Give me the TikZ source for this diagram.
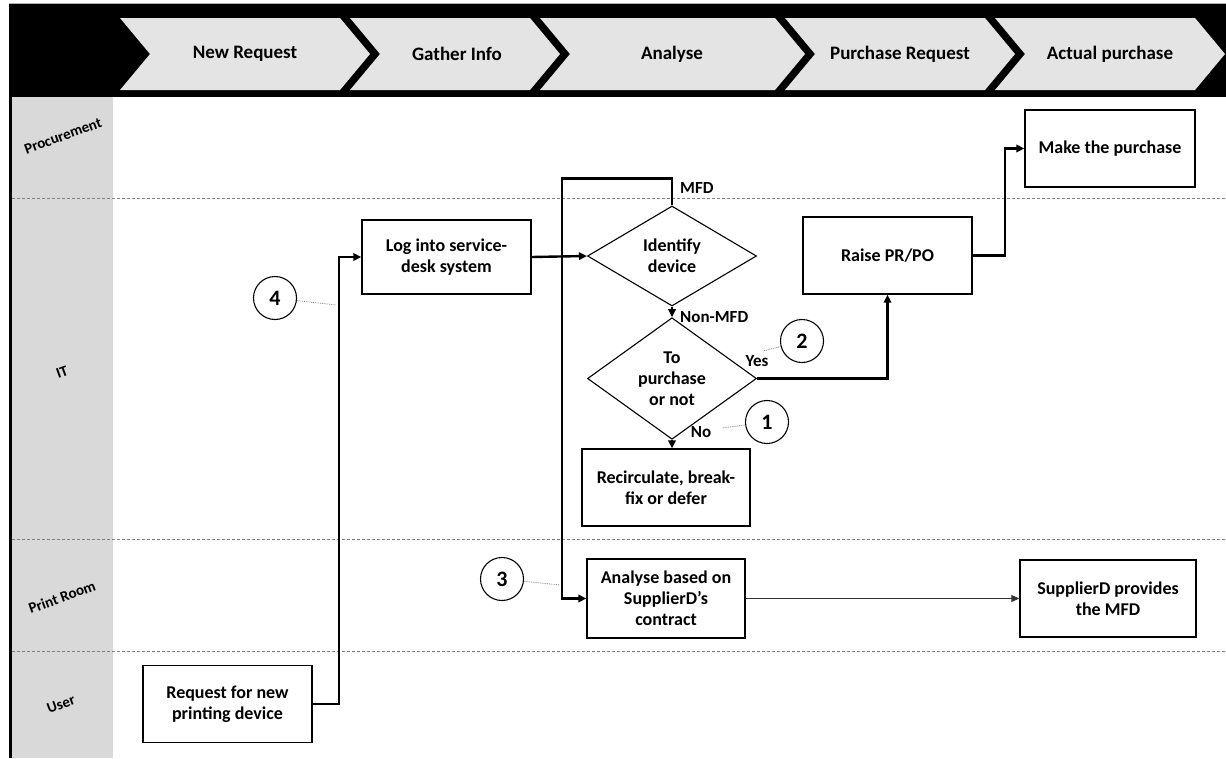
\documentclass[tikz,border=0pt]{standalone}
\usepackage{fontspec}
\setmainfont{Carlito}
\usetikzlibrary{arrows.meta,shapes.geometric,calc}
\definecolor{chev}{HTML}{E4E4E4}
\definecolor{lanecol}{HTML}{D9D9D9}
\definecolor{dashcol}{HTML}{808080}
\begin{document}
\begin{tikzpicture}[x=1pt,y=-1pt,
  box/.style={draw, line width=1.4pt, minimum width=169pt, minimum height=77pt, align=center,
    font=\bfseries\fontsize{18}{21}\selectfont, inner sep=2pt},
  dia/.style={diamond, draw, line width=1.1pt, inner sep=0pt, align=center,
    minimum width=169pt, minimum height=100pt, font=\bfseries\fontsize{18}{21}\selectfont},
  conn/.style={line width=2.4pt, -{Triangle[length=8pt,width=7.5pt]}},
  thinconn/.style={line width=0.9pt, draw=black!80, -{Triangle[length=8pt,width=7pt]}},
  num/.style={circle, draw, line width=1.1pt, minimum size=43pt, inner sep=0pt,
    font=\bfseries\fontsize{22}{25}\selectfont},
  lead/.style={draw=gray, line width=0.8pt, densely dotted},
  lane/.style={font=\bfseries\fontsize{15}{17}\selectfont, rotate=20},
  hdr/.style={font=\bfseries\fontsize{19}{22}\selectfont},
  elab/.style={font=\bfseries\fontsize{17}{20}\selectfont, inner sep=1pt},
  sep/.style={draw=dashcol, line width=0.7pt, dashed, dash pattern=on 3pt off 2pt}
]
\useasboundingbox (0,0) rectangle (1226,758);
% header band
\fill[black] (9,3) rectangle (1226,97);
\draw[gray!60, line width=0.8pt] (9,3) -- (1226,3);
\foreach \a/\b in {120/340, 350/530, 540/775, 785/985, 995/1195}{
  \fill[chev] (\a,18) -- (\b,18) -- (\b+30,54) -- (\b,90) -- (\a,90) -- (\a+30,54) -- cycle;
}
\node[hdr] (h1) at (245,54) {New Request};
\node[hdr] (h2) at (457,54) {Gather Info};
\node[hdr] (h3) at (672,54) {Analyse};
\node[hdr] (h4) at (900,54) {Purchase Request};
\node[hdr] (h5) at (1110,54) {Actual purchase};
% lane column
\fill[lanecol] (12,97) rectangle (113,758);
\draw[black, line width=2.4pt] (10.5,97) -- (10.5,758);
\draw[sep] (12,198) -- (1226,198);
\draw[sep] (12,539) -- (1226,539);
\draw[sep] (12,651) -- (1226,651);
\node[lane] (l1) at (63,136) {Procurement};
\node[lane] (l2) at (62,372) {IT};
\node[lane] (l3) at (62,597) {Print Room};
\node[lane] (l4) at (61,704) {User};
% nodes
\node[box] (req) at (227.5,704) {Request for new\\printing device};
\node[box, minimum height=74pt] (log) at (446.5,257) {Log into service-\\desk system};
\node[dia] (idd) at (672,256) {Identify\\device};
\node[dia, minimum height=99pt] (tp) at (672,378.5) {To\\purchase\\or not};
\node[box, minimum width=168pt] (rec) at (666,487.5) {Recirculate, break-\\fix or defer};
\node[box] (raise) at (887.5,255.5) {Raise PR/PO};
\node[box, minimum width=170pt] (make) at (1110,148.5) {Make the purchase};
\node[box, minimum width=158pt, minimum height=79pt] (ana) at (666,598.5) {Analyse based on\\SupplierD’s\\contract};
\node[box, minimum width=176pt] (sup) at (1108,598.5) {SupplierD provides\\the MFD};
% connectors
\draw[conn] (req.east) -- ++(26,0) |- (log.west);
\draw[conn] (log.east) -- (idd.west);
\draw[conn] (idd.north) -- ++(0,-27) -- ++(-110,0) |- (ana.west);
\draw[conn] (idd.south) -- (tp.north);
\draw[conn] (tp.south) -- (tp.south |- rec.north);
\draw[conn] (tp.east) -| (raise.south);
\draw[conn] (raise.east) -- ++(32,0) |- (make.west);
\draw[thinconn] (ana.east) -- (sup.west);
% edge labels
\node[elab, anchor=west] (lmfd) at (679,188) {MFD};
\node[elab, anchor=west] (lnon) at (679,317) {Non-MFD};
\node[elab] (lyes) at (757,361) {Yes};
\node[elab] (lno) at (701,432) {No};
% numbered callouts
\node[num] (c4) at (275,298) {4};
\node[num] (c3) at (502,579) {3};
\node[num] (c2) at (802,341) {2};
\node[num] (c1) at (767,422) {1};
\coordinate (t4) at (336,305);
\coordinate (t3) at (560,585);
\coordinate (t2) at (763,351);
\coordinate (t1) at (722,428);
\draw[lead] (c4) -- (t4);
\draw[lead] (c3) -- (t3);
\draw[lead] (c2) -- (t2);
\draw[lead] (c1) -- (t1);
\end{tikzpicture}
\end{document}
